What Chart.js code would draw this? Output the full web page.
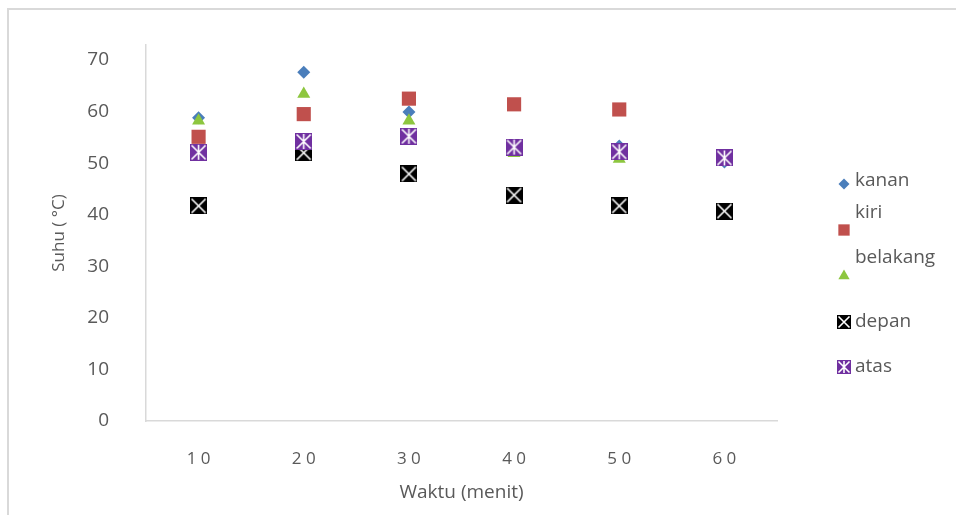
<!DOCTYPE html>
<html>
<head>
<meta charset="utf-8">
<script src="https://cdn.jsdelivr.net/npm/chart.js@4/dist/chart.umd.min.js"></script>
<style>
  html, body { margin: 0; padding: 0; background: #fff; }
  #wrap { width: 956px; height: 515px; }
</style>
</head>
<body>
<div id="wrap"><canvas id="chart" width="956" height="515"></canvas></div>
<script>
const waktu = ['10', '20', '30', '40', '50', '60'];
const kanan = [58.8, 67.6, 59.9, 53.1, 53.3, 50.2];
const kiri = [55.1, 59.5, 62.5, 61.4, 60.4, null];
const belakang = [58.2, 63.4, 58.2, 51.9, 50.8, null];
const depan = [41.7, 52.0, 47.9, 43.8, 41.7, 40.7];
const atas = [52.1, 54.2, 55.2, 53.1, 52.2, 51.0];
const yTicks = [0, 10, 20, 30, 40, 50, 60, 70];

const textColor = '#595959';
const fontFamily = "'Open Sans', 'Noto Sans', sans-serif";

// square marker with a white cross, optional vertical stroke
function crossBox(fill, vertical, size) {
  const c = document.createElement('canvas');
  c.width = size; c.height = size;
  const g = c.getContext('2d');
  g.fillStyle = fill;
  g.fillRect(0, 0, size, size);
  g.strokeStyle = '#fff';
  g.lineWidth = 1.6;
  g.beginPath();
  g.moveTo(1.5, 1.5); g.lineTo(size - 1.5, size - 1.5);
  g.moveTo(size - 1.5, 1.5); g.lineTo(1.5, size - 1.5);
  if (vertical) { g.moveTo(size / 2, 1); g.lineTo(size / 2, size - 1); }
  g.stroke();
  return c;
}

const depanMark = crossBox('#000000', false, 17);
const atasMark = crossBox('#7030A0', true, 17);
const depanLegend = crossBox('#000000', false, 14);
const atasLegend = crossBox('#7030A0', true, 14);

// legend spots: marker y, text y
const legendSpots = [
  { mark: 184, text: 181 },
  { mark: 230, text: 213 },
  { mark: 276, text: 258 },
  { mark: 322, text: 322 },
  { mark: 367, text: 367 }
];
const legendMarks = [
  { pointStyle: 'rectRot', radius: 5.5 },
  { pointStyle: 'rect', radius: 8 },
  { pointStyle: 'triangle', radius: 6.5 },
  { pointStyle: depanLegend, radius: 7 },
  { pointStyle: atasLegend, radius: 7 }
];

const framePlugin = {
  id: 'frame',
  beforeDraw(chart) {
    const ctx = chart.ctx;
    ctx.save();
    ctx.strokeStyle = '#d9d9d9';
    ctx.lineWidth = 2;
    ctx.beginPath();
    ctx.moveTo(8, 515);
    ctx.lineTo(8, 9);
    ctx.lineTo(956, 9);
    ctx.stroke();
    ctx.restore();
  }
};

const legendPlugin = {
  id: 'sideLegend',
  afterDraw(chart) {
    const ctx = chart.ctx;
    ctx.save();
    ctx.font = '19px ' + fontFamily;
    ctx.textBaseline = 'middle';
    ctx.textAlign = 'left';
    chart.data.datasets.forEach((ds, i) => {
      const spot = legendSpots[i];
      const m = legendMarks[i];
      ctx.fillStyle = ds.backgroundColor;
      Chart.helpers.drawPoint(ctx, { pointStyle: m.pointStyle, radius: m.radius, rotation: 0, borderWidth: 0 }, 844, spot.mark);
      ctx.fillStyle = textColor;
      ctx.fillText(ds.label, 855, spot.text);
    });
    ctx.restore();
  }
};

const series = [
  { label: 'kanan', data: kanan, backgroundColor: '#4A7EBB', pointStyle: 'rectRot', pointRadius: 6.5 },
  { label: 'kiri', data: kiri, backgroundColor: '#C0504D', pointStyle: 'rect', pointRadius: 10 },
  { label: 'belakang', data: belakang, backgroundColor: '#8DC63F', pointStyle: 'triangle', pointRadius: 7.5 },
  { label: 'depan', data: depan, backgroundColor: '#000000', pointStyle: depanMark, pointRadius: 8.5 },
  { label: 'atas', data: atas, backgroundColor: '#7030A0', pointStyle: atasMark, pointRadius: 8.5 }
];
// later series sit on top of earlier ones
series.forEach((ds, i) => Object.assign(ds, {
  borderWidth: 0, pointBorderWidth: 0, showLine: false, order: series.length - i
}));

new Chart(document.getElementById('chart'), {
  type: 'scatter',
  data: { labels: waktu, datasets: series },
  options: {
    responsive: false,
    animation: false,
    events: [],
    layout: { padding: { left: 0, right: 179, top: 45, bottom: 0 } },
    plugins: {
      legend: { display: false },
      tooltip: { enabled: false }
    },
    scales: {
      x: {
        type: 'category',
        offset: true,
        grid: { display: false },
        border: { display: true, color: '#d9d9d9', width: 1.5 },
        ticks: {
          color: textColor,
          font: { size: 17, family: fontFamily },
          padding: 20,
          callback(value) { return this.getLabelForValue(value).split('').join(' '); }
        },
        title: {
          display: true,
          text: 'Waktu (menit)',
          color: textColor,
          font: { size: 19, family: fontFamily },
          padding: { bottom: 11 }
        },
        afterFit(scale) { scale.height = 94; }
      },
      y: {
        min: 0,
        max: 72.9,
        grid: { display: false },
        border: { display: true, color: '#d9d9d9', width: 1.5 },
        afterBuildTicks(scale) { scale.ticks = yTicks.map(v => ({ value: v })); },
        ticks: {
          color: textColor,
          font: { size: 19, family: fontFamily },
          padding: 29
        },
        title: {
          display: true,
          text: 'Suhu ( °C)',
          color: textColor,
          font: { size: 17, family: fontFamily },
          padding: { top: 49 }
        },
        afterFit(scale) { scale.width = 146; }
      }
    }
  },
  plugins: [framePlugin, legendPlugin]
});
</script>
</body>
</html>
